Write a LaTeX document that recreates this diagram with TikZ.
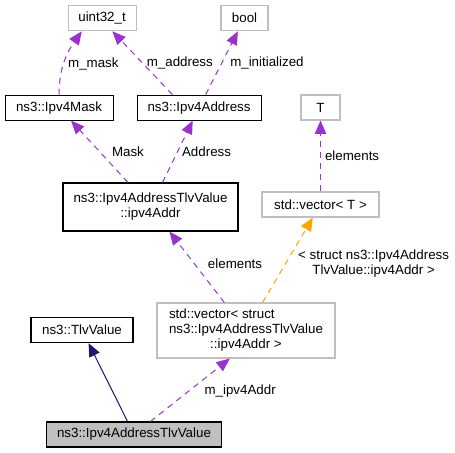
\documentclass[tikz,border=0pt]{standalone}
\usepackage{fontspec}
\setmainfont{Liberation Sans}
\usetikzlibrary{arrows.meta, positioning}

\definecolor{usecolor}{HTML}{9A32CD}
\definecolor{tmplcolor}{HTML}{FFA500}
\definecolor{basecolor}{HTML}{191970}
\definecolor{boxgray}{HTML}{BFBFBF}

\begin{document}
\begin{tikzpicture} [x=0.75pt, y=-0.75pt,
            on grid,
            font=\fontsize{10}{11.25}\selectfont,
            classbox/.style = {draw=black, line width=0.8pt, inner sep=0pt,
                align=center, minimum height=19pt},
            extbox/.style = {draw=boxgray, line width=0.8pt, inner sep=0pt,
                align=center, minimum height=19pt},
            usage/.style = {draw=usecolor, dash pattern=on 4.5pt off 3.75pt,
                -{Triangle[length=10pt, width=8.5pt]}, line width=0.75pt},
            tmpl/.style = {draw=tmplcolor, dash pattern=on 4.5pt off 3.75pt,
                -{Triangle[length=10pt, width=8.5pt]}, line width=0.75pt},
            inherit/.style = {draw=basecolor, line width=0.75pt,
                -{Triangle[length=10pt, width=8.5pt]}},
            lbl/.style = {anchor=west, inner sep=3pt, text=black}]

        \useasboundingbox (0,0) rectangle (455,453);

        % Ipv4AddressTlvValue
        \node (tlvv) [classbox, fill=boxgray,
            minimum width=131.25pt, minimum height=18.75pt]
            at (134,434.5) {ns3::Ipv4AddressTlvValue};

        % TlvValue
        \node (tlv) [classbox,
            minimum width=76.5pt,
            above left = 78.4pt and 39pt of tlvv] {ns3::TlvValue};

        % std::vector< struct ... >
        \node (vecs) [extbox,
            minimum width=133.5pt, minimum height=41.25pt,
            above right = 78pt and 84pt of tlvv]
            {\makebox[0pt][l]{std::vector< struct}\hphantom{ns3::Ipv4AddressTlvValue}\\
             ns3::Ipv4AddressTlvValue\\::ipv4Addr >};

        % ipv4Addr
        \node (addr) [classbox,
            minimum width=131.25pt, minimum height=36pt,
            above left = 92.6pt and 71.6pt of vecs]
            {ns3::Ipv4AddressTlvValue\\::ipv4Addr};

        % std::vector< T >
        \node (vect) [extbox,
            minimum width=87.75pt, minimum height=18.75pt,
            above right = 94.5pt and 55.9pt of vecs] {std::vector< T >};

        % Ipv4Mask
        \node (mask) [classbox,
            minimum width=81pt, minimum height=18.75pt,
            above left = 74.6pt and 68.6pt of addr] {ns3::Ipv4Mask};

        % Ipv4Address
        \node (ipaddr) [classbox,
            minimum width=93pt, minimum height=18.75pt,
            above right = 74.6pt and 36.4pt of addr] {ns3::Ipv4Address};

        % T
        \node (t) [extbox,
            minimum width=29.25pt, minimum height=18.75pt,
            above = 72.75pt of vect] {T};

        % uint32_t
        \node (uint) [extbox,
            minimum width=51pt,
            above right = 67.1pt and 32.25pt of mask] {uint32\_t};

        % bool
        \node (bool) [extbox,
            minimum width=35.25pt,
            above right = 67.1pt and 34.1pt of ipaddr] {bool};

        % Arrows
        \path
            (tlvv) edge [inherit] (tlv)
            (tlvv) edge [usage] node [lbl, pos=0.55, xshift=4.5pt, yshift=-3pt] {m\_ipv4Addr} (vecs.-120)
            (vecs) edge [usage] node [lbl, pos=0.55, xshift=7pt] {elements} (addr)
            (vecs) edge [tmpl] node [lbl, pos=0.5, align=center, xshift=4.5pt, yshift=-2.5pt]
                {< struct ns3::Ipv4Address\\TlvValue::ipv4Addr >} (vect)
            (vect) edge [usage] node [lbl] {elements} (t)
            (addr) edge [usage] node [lbl, xshift=6pt] {Mask} (mask)
            (addr) edge [usage] node [lbl] {Address} (ipaddr)
            (mask.north) edge [usage, out=90, in=-125] node [lbl, pos=0.45] {m\_mask} (uint.-147)
            (ipaddr.154) edge [usage] node [lbl] {m\_address} (uint.-52)
            (ipaddr) edge [usage] node [lbl, xshift=3pt] {m\_initialized} (bool)
            ;
\end{tikzpicture}
\end{document}
